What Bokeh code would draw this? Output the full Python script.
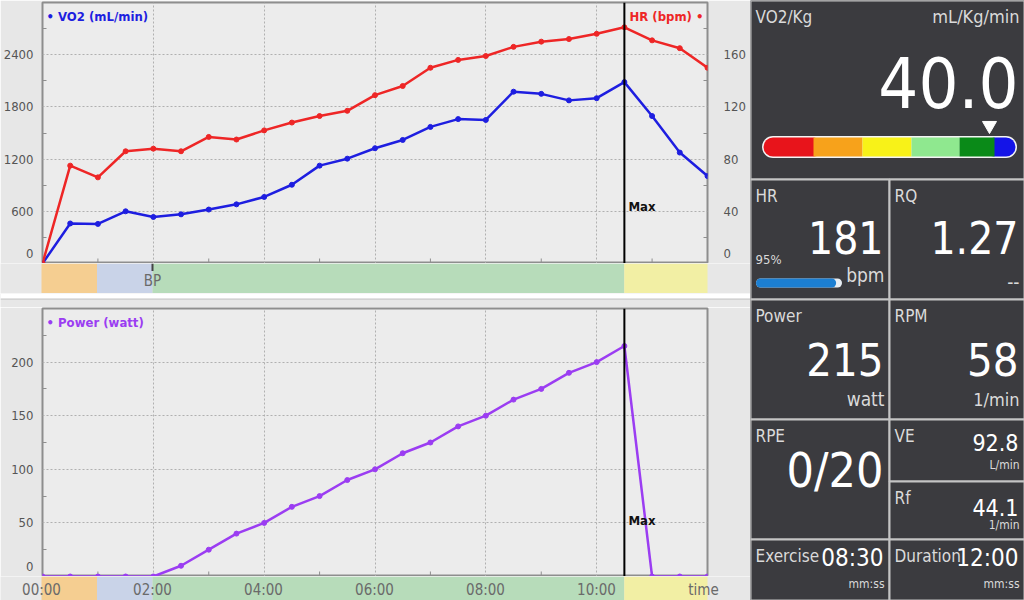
from bokeh.plotting import figure
from bokeh.layouts import row, column
from bokeh.models import Range1d, LinearAxis, FixedTicker, Span, ColumnDataSource
from bokeh.core.properties import value
from bokeh.embed import file_html
from bokeh.resources import INLINE

FONT = "DejaVu Sans Condensed, Roboto"

# ---------------- data ----------------
time_min = [0, 0.5, 1, 1.5, 2, 2.5, 3, 3.5, 4, 4.5, 5, 5.5, 6, 6.5, 7, 7.5, 8, 8.5,
            9, 9.5, 10, 10.5, 11, 11.5, 12]
vo2_ml_min = [0, 460, 455, 600, 535, 565, 620, 680, 765, 905, 1125, 1205, 1325, 1420,
              1570, 1660, 1650, 1975, 1950, 1875, 1900, 2085, 1695, 1275, 1005]
hr_bpm = [0, 75, 66, 86, 88, 86, 97, 95, 102, 108, 113, 117, 129, 136, 150, 156, 159,
          166, 170, 172, 176, 181, 171, 165, 150]
power_watt = [0, 0, 0, 0, 0, 10, 25, 40, 50, 65, 75, 90, 100, 115, 125, 140, 150, 165,
              175, 190, 200, 215, 0, 0, 0]

phase_start = [0, 1, 2, 10.5]
phase_end = [1, 2, 10.5, 12]
phase_colors = ["#f5ce91", "#c9d3e8", "#b7dcba", "#f2efa4"]
event_time = [2]
event_label = ["BP"]

x_ticks = [0, 2, 4, 6, 8, 10]
x_tick_labels = ["00:00", "02:00", "04:00", "06:00", "08:00", "10:00"]
x_minor = [1, 3, 5, 7, 9, 11]
vo2_ticks = [0, 600, 1200, 1800, 2400]
vo2_minor = [300, 900, 1500, 2100, 2700]
hr_ticks = [0, 40, 80, 120, 160]
hr_minor = [20, 60, 100, 140, 180]
power_ticks = [0, 50, 100, 150, 200]
power_minor = [25, 75, 125, 175, 225]

T_END = 12
VO2_AXIS_MAX = 3000
HR_AXIS_MAX = 200
POWER_AXIS_MAX = 250

tile_titles = ["VO2/Kg", "HR", "RQ", "Power", "RPM", "RPE", "VE", "Rf", "Exercise", "Duration"]
tile_values = ["40.0", "181", "1.27", "215", "58", "0/20", "92.8", "44.1", "08:30", "12:00"]
tile_units = ["mL/Kg/min", "bpm", "--", "watt", "1/min", "", "L/min", "1/min", "mm:ss", "mm:ss"]
hr_percent_text = "95%"
hr_percent = 95
gauge_colors = ["#e8141b", "#f7a21b", "#f8f218", "#8fe88f", "#0a8a18", "#1414e8"]

t_max = time_min[power_watt.index(max(power_watt))]

# ---------------- styles / layout ----------------
BG_OUT = "#e7e7e7"
BG_IN = "#ececec"
FRAME = "#8e8e8e"
GRID = "#b0b0b0"
TICK_TXT = "#555555"
BAND_TXT = "#6a6a6a"
BLUE = "#1e1ee0"
RED = "#ee2626"
PURPLE = "#9b3df2"
PANEL = "#3b3b3f"
PANEL_LINE = "#c4c4c4"
PANEL_TXT = "#dadada"
LEFT_W = 750
BL, BR = 41, 43
FW = LEFT_W - BL - BR
ZERO_LIFT_PX = 10   # the "0" tick label sits a little above the axis, as in the original

xr = Range1d(0, T_END)
# band strips span the full width, with the same time scale as the charts
xb = Range1d(-BL * T_END / FW, T_END + BR * T_END / FW)


def style_axis(ax, ticks, minor, standoff, y_max, frame_h):
    zero_tick = round(ZERO_LIFT_PX * y_max / frame_h)
    ax.ticker = FixedTicker(ticks=[zero_tick] + ticks[1:], minor_ticks=minor)
    ax.major_label_overrides = {zero_tick: "0"}
    ax.axis_line_color = None
    ax.major_tick_line_color = None
    ax.minor_tick_in = 4
    ax.minor_tick_out = 0
    ax.minor_tick_line_color = FRAME
    ax.major_label_text_font = FONT
    ax.major_label_text_font_size = "13px"
    ax.major_label_text_color = TICK_TXT
    ax.major_label_standoff = standoff


def chart(height, y_max, top_border, ticks, minor):
    p = figure(width=LEFT_W, height=height, x_range=xr, y_range=Range1d(0, y_max),
               x_axis_location=None, y_axis_location="left", toolbar_location=None,
               output_backend="svg", min_border_left=BL, min_border_right=BR,
               min_border_top=top_border, min_border_bottom=0)
    p.background_fill_color = BG_IN
    p.border_fill_color = BG_OUT
    p.outline_line_color = FRAME
    p.outline_line_width = 2
    p.xgrid.ticker = FixedTicker(ticks=x_ticks[1:])
    p.ygrid.ticker = FixedTicker(ticks=ticks[1:])
    p.grid.grid_line_color = GRID
    p.grid.grid_line_dash = "2 2"
    frame_h = height - top_border
    style_axis(p.yaxis[0], ticks, minor, 3, y_max, frame_h)
    tick_len = 5 * y_max / frame_h
    p.segment(x0=x_minor, y0=[0] * len(x_minor), x1=x_minor, y1=[tick_len] * len(x_minor),
              line_color=FRAME, line_width=1)
    p.add_layout(Span(location=t_max, dimension="height", line_color="#000000", line_width=2))
    return p


def strip(height, x_range, y_range):
    b = figure(width=LEFT_W, height=height, x_range=x_range, y_range=y_range,
               x_axis_location=None, y_axis_location=None, toolbar_location=None,
               output_backend="svg", min_border=0, frame_align=False)
    b.grid.visible = False
    b.outline_line_color = None
    b.background_fill_color = BG_OUT
    b.border_fill_color = BG_OUT
    return b


def band(height):
    b = strip(height, xb, Range1d(0, 1))
    b.quad(left=phase_start, right=phase_end, bottom=0, top=1,
           fill_color=phase_colors, line_color=None)
    return b


# ---------------- top chart ----------------
p1 = chart(263, VO2_AXIS_MAX, 2, vo2_ticks, vo2_minor)
p1.extra_y_ranges = {"hr": Range1d(0, HR_AXIS_MAX)}
rax = LinearAxis(y_range_name="hr")
style_axis(rax, hr_ticks, hr_minor, 10, HR_AXIS_MAX, 261)
p1.add_layout(rax, "right")
p1.line(time_min, vo2_ml_min, line_color=BLUE, line_width=2.5)
p1.scatter(time_min, vo2_ml_min, size=5, color=BLUE)
p1.line(time_min, hr_bpm, y_range_name="hr", line_color=RED, line_width=2.5)
p1.scatter(time_min, hr_bpm, y_range_name="hr", size=5, color=RED)
p1.text(x=[0], y=[VO2_AXIS_MAX], text=["\u2022 VO2 (mL/min)"], x_offset=4, y_offset=6,
        text_baseline="top", text_font=value(FONT), text_font_style="bold",
        text_font_size="13px", text_color=BLUE)
p1.text(x=[T_END], y=[VO2_AXIS_MAX], text=["HR (bpm) \u2022"], x_offset=-4, y_offset=6,
        text_align="right", text_baseline="top", text_font=value(FONT),
        text_font_style="bold", text_font_size="13px", text_color=RED)
p1.text(x=[t_max], y=[650], text=["Max"], x_offset=4, text_baseline="middle",
        text_font=value(FONT), text_font_style="bold", text_font_size="13px",
        text_color="#111111")

band1 = band(30)
band1.segment(x0=event_time, y0=[1], x1=event_time, y1=[0.75], line_color="#444444",
              line_width=2)
band1.text(x=event_time, y=[0.42], text=event_label, text_align="center",
           text_baseline="middle", text_font=value(FONT), text_font_size="15px",
           text_color=BAND_TXT)

# ---------------- separator ----------------
sep = strip(14, Range1d(0, 1), Range1d(0, 14))
sep.quad(left=[0], right=[1], bottom=[9], top=[14], fill_color="#ffffff", line_color=None)
sep.quad(left=[0], right=[1], bottom=[7.5], top=[9], fill_color="#d2d2d2", line_color=None)

# ---------------- bottom chart ----------------
p2 = chart(269, POWER_AXIS_MAX, 1, power_ticks, power_minor)
p2.line(time_min, power_watt, line_color=PURPLE, line_width=2.5)
p2.scatter(time_min, power_watt, size=5, color=PURPLE)
p2.text(x=[0], y=[POWER_AXIS_MAX], text=["\u2022 Power (watt)"], x_offset=4, y_offset=6,
        text_baseline="top", text_font=value(FONT), text_font_style="bold",
        text_font_size="13px", text_color=PURPLE)
p2.text(x=[t_max], y=[52], text=["Max"], x_offset=4, text_baseline="middle",
        text_font=value(FONT), text_font_style="bold", text_font_size="13px",
        text_color="#111111")

band2 = band(24)
band2.text(x=x_ticks, y=[0.42] * len(x_ticks), text=x_tick_labels, text_align="center",
           text_baseline="middle", text_font=value(FONT), text_font_size="15px",
           text_color=BAND_TXT)
band2.text(x=[T_END], y=[0.42], x_offset=-4, text=["time"], text_align="center",
           text_baseline="middle", text_font=value(FONT), text_font_size="15px",
           text_color=BAND_TXT)

# ---------------- right panel ----------------
p3 = figure(width=274, height=600, x_range=Range1d(0, 274), y_range=Range1d(600, 0),
            x_axis_location=None, y_axis_location=None, toolbar_location=None,
            output_backend="svg", min_border=0, frame_align=False)
p3.grid.visible = False
p3.outline_line_color = None
p3.background_fill_color = PANEL
p3.border_fill_color = PANEL

tile_x0 = [0, 0, 139, 0, 139, 0, 139, 139, 0, 139]
tile_x1 = [274, 139, 274, 139, 274, 139, 274, 274, 139, 274]
tile_y0 = [0, 179, 179, 299, 299, 419, 419, 481, 539, 539]
tile_y1 = [179, 299, 299, 419, 419, 539, 481, 539, 600, 600]
p3.quad(left=tile_x0, right=tile_x1, top=tile_y0, bottom=tile_y1, fill_color=PANEL,
        line_color=PANEL_LINE, line_width=2)

p3.text(x=[a + 5 for a in tile_x0], y=[b + 6 for b in tile_y0], text=tile_titles,
        text_baseline="top", text_font=value(FONT), text_font_size="17px",
        text_color=PANEL_TXT)

val_base = [107, 253, 253, 375, 375, 497, 450, 515, 571, 571]
val_px = [70, 44, 44, 45, 45, 48, 23, 23, 24, 24]
p3.text(x="x", y="y", text="t", text_font_size="s",
        source=ColumnDataSource(dict(x=[b - 6 for b in tile_x1], y=val_base,
                                     t=tile_values, s=[f"{s}px" for s in val_px])),
        text_align="right", text_baseline="bottom", text_font=value(FONT),
        text_color="#ffffff")

unit_base = [26, 285, 288, 409, 409, 530, 471, 531, 590, 590]
unit_px = [18, 19, 19, 19, 18, 18, 12, 12, 12, 12]
p3.text(x="x", y="y", text="t", text_font_size="s",
        source=ColumnDataSource(dict(x=[b - 5 for b in tile_x1], y=unit_base,
                                     t=tile_units, s=[f"{s}px" for s in unit_px])),
        text_align="right", text_baseline="bottom", text_font=value(FONT),
        text_color=PANEL_TXT)

# gauge bar
gauge_edges = [13, 63, 112, 161, 209, 244, 265]
g_y = 146.5
r = 9.5
p3.segment(x0=[gauge_edges[0] + r], y0=[g_y], x1=[gauge_edges[-1] - r], y1=[g_y],
           line_color="#f4f4f4", line_width=22, line_cap="round")
p3.segment(x0=[gauge_edges[0] + r, gauge_edges[-2]], y0=[g_y, g_y],
           x1=[gauge_edges[1], gauge_edges[-1] - r], y1=[g_y, g_y],
           line_color=[gauge_colors[0], gauge_colors[-1]], line_width=19, line_cap="round")
p3.quad(left=gauge_edges[1:-2], right=gauge_edges[2:-1], top=[g_y - r] * 4,
        bottom=[g_y + r] * 4, fill_color=gauge_colors[1:-1], line_color=None)
p3.scatter(x=[239], y=[125], marker="inverted_triangle", size=14, color="#ffffff")

# HR percentage bar
p3.segment(x0=[10], y0=[282.5], x1=[87], y1=[282.5], line_color="#e8eef4", line_width=9,
           line_cap="round")
p3.segment(x0=[10], y0=[282.5], x1=[10 + 77 * hr_percent / 100 - 2], y1=[282.5],
           line_color="#1c7fd2", line_width=9, line_cap="round")
p3.text(x=[5], y=[266], text=[hr_percent_text], text_font=value(FONT),
        text_font_size="13px", text_color=PANEL_TXT)

layout = row(column(p1, band1, sep, p2, band2), p3)
open("out.html", "w").write(file_html(layout, INLINE))
